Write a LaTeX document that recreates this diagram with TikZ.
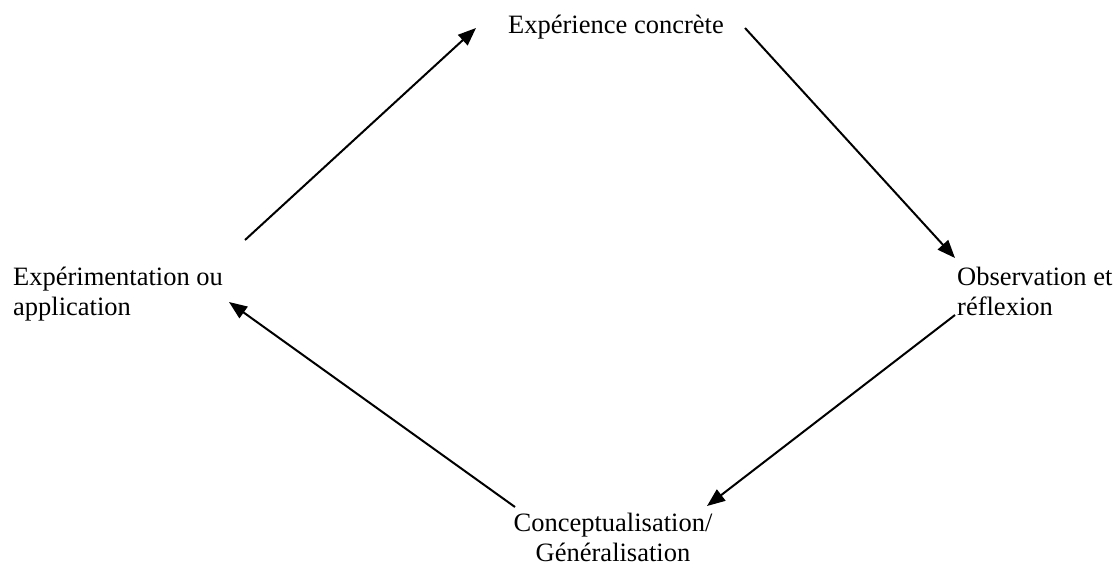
\documentclass[tikz,border=0pt]{standalone}
\usepackage{fontspec}
\setmainfont{Liberation Serif}
\usetikzlibrary{arrows.meta}

\begin{document}
\begin{tikzpicture}[
    x=1pt, y=-1pt,
    % Define styles
    label_text/.style={
        font=\fontsize{26.5}{30}\selectfont,
        inner sep=0pt,
        text=black
    },
    edge/.style={
        black,
        line width=2pt,
        -{Triangle[length=18pt, width=14pt]}
    }
]
    \useasboundingbox (0,0) rectangle (1116,565);

    % --- Labels of the four stages ---
    \node[label_text, anchor=base west] (exp) at (508,33) {Expérience concrète};
    \node[label_text, anchor=base west, align=left] (obs) at (957,315)
        {Observation et\\réflexion};
    \node[label_text, anchor=base, align=center] (gen) at (613,561)
        {Conceptualisation/\\Généralisation};
    \node[label_text, anchor=base west, align=left] (app) at (13,315)
        {Expérimentation ou\\application};

    % --- Free ends of the arrows ---
    \coordinate (app_out) at (245,240);
    \coordinate (exp_in)  at (476,28);
    \coordinate (exp_out) at (745,28);
    \coordinate (obs_in)  at (955,258);
    \coordinate (obs_out) at (955,315);
    \coordinate (gen_in)  at (707,506);
    \coordinate (gen_out) at (515,507);
    \coordinate (app_in)  at (229,302);

    % --- Cycle ---
    \draw[edge] (app_out) -- (exp_in);
    \draw[edge] (exp_out) -- (obs_in);
    \draw[edge] (obs_out) -- (gen_in);
    \draw[edge] (gen_out) -- (app_in);

\end{tikzpicture}
\end{document}
